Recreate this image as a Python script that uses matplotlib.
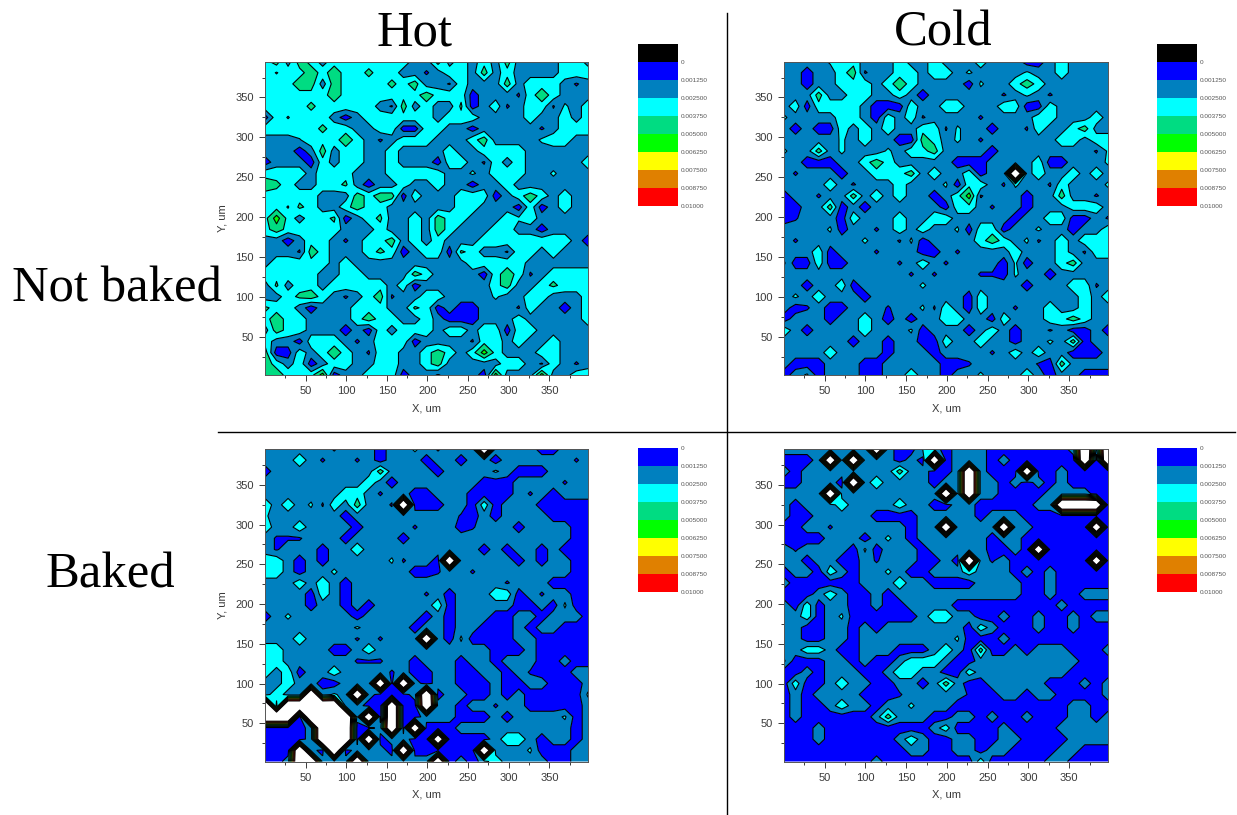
import numpy as np
import matplotlib
matplotlib.use("Agg")
import matplotlib.pyplot as plt
from matplotlib.colors import ListedColormap, BoundaryNorm

W_PX, H_PX = 1237, 815

# Cell codes -> measured value (rows listed from the top of each map down to the bottom)
CODE_VALUES = {"b": 0.0006, "n": 0.0011, "m": 0.0019, "x": 0.0024, "d": 0.0027,
               "c": 0.0033, "s": 0.0040, "t": 0.0044, "g": 0.0056, "W": 0.016}
X_UM = [14.2 * i for i in range(29)]
Y_UM = [2 + 14.04 * j for j in range(29)]
LEVELS = [0, 0.00125, 0.0025, 0.00375, 0.005, 0.00625, 0.0075, 0.00875, 0.01]
LEVEL_LABELS = ["0", "0.001250", "0.002500", "0.003750", "0.005000", "0.006250", "0.007500", "0.008750", "0.01000"]
LEVEL_COLORS = ["#0000FF", "#0080BF", "#00FFFF", "#00DC82", "#00FF00", "#FFFF00", "#E08000", "#FF0000"]
BELOW_COLOR = "#000000"
TICKS = [50, 100, 150, 200, 250, 300, 350]
MINOR_TICKS = [25, 75, 125, 175, 225, 275, 325, 375]

hot_not_baked = [
 "ctmtcmcccccccmmtmcmcmtmmmmccm",
 "cxcctctccsccmmnmccmtmcmmmmccc",
 "ccc tt m t cccc s c t mmn c mmm t m ccc mnm",
 "cccccc t ccccccc t ccc b mmm n c t c mmm",
 "ccccsccccc mnt mc mm s b m c n m cc n d m c",
 "bcxcccmbm cccccc m ccc mmmm c mm c m c",
 "ccccc s cc mm cc bb cc mm b mmmmm n m ccc",
 "mmmx ccc t c mnm ccc mmm c t mmmm d cc mm",
 "mmmbmtm cc mm c mmmm c mm cccc mmmmmm",
 "bmmmbcm cc mm c mmmb cc mn c m c mmmmm c",
 "ccccm ccc mmm ccccc mm d m ccc mm d mmm",
 "tscmm ccs mbmm c mm c mm b mm c mmmmmmm",
 "ccccc mmm tctt bc mmm ccc bmctc mcmm",
 "ccxsc mm ctcc mmmmmm cc mmm bcb mcmm",
 "cgcmccsb mcs mm cmtcc mmm cdc mmmmm",
 "ct ccccc mmm c mm cmtc mmm cc mm b mmmm",
 "mmbm cc mnm cct mcmc mmm cccccccc mb",
 "mmmnt c mmm csc bm cc bsc mmn cc mc mmm",
 "mccccc mc mmmmmmmmmm ccccc mmmmmm",
 "ccccc mm cc mmmm tc mmmm bctc nm cccc",
 "msmccm ccccc mcb mmmmmm ct mm csccc",
 "mmcst cmnm ctn mm cc mmmm d mm cc mmm c",
 "sccmbmmm ccc mm s c b m bb mmm n c mm b m c",
 "ctcc mmmm ctcc mm cm bbb mmm c mmmmm c",
 "mtcc mmmbmb cm ccc m cc m cc b cc mmmmm",
 "cmmb ccc mnm ccc b mmmm n cc mc mm c mmm",
 "tbbcmctc mn cc mm ctc mc g c mmm cc mmm",
 "tcmcbm cc mm cc mm ct mmmmm cc mn c mnm",
 "ttcccg bmm ccc bmm nmmm b g mmm g mm cc",
]
cold_not_baked = [
 "mmmmdccmmmcmmcmmmcmmmbbmcmmmm",
 "mmbmmctnmmccmccmdmmmmdmmcmmmm",
 "mmbmmcccmctcmmmmbdmmctcmmmmmm",
 "mmmtmmccmmcmbmmmmmmnmdmnmmmmm",
 "mcbcccc m bbb c mm cc mmm cc bb c mmmmm",
 "dmmmmccmbc mcnmm mmnmm mmccm mmcm",
 "mbmbbcmcmc mmccndmmbm mncmmctmm",
 "mmmmmdmcmm bbtcmdmnmm mmmmccmcc",
 "dmmtmdmmmd mcctmmmmbm mmmmmmmnd",
 "mmbbbmmctc mmmmmbbbmm mmcbbmmmd",
 "mnmmmbmmcc ctmcmmcbmm Wmcmmcmcm",
 "mmmmcmnmmm cmmmdbccmn dmmncmmmd",
 "bmmnmmtmcm cmmbmcgnmm mbmmtmmnm",
 "bbmmtbmbmm mmmmbccmnm mbmmmcccm",
 "bnmmmbcmmm cmmccmmmmm bmmccbbmn",
 "mmmmdbmmnm cmcmmdbccb mmdmmbmmc",
 "mnmmmmmdmm ndbmmmmctc mdnmcmccc",
 "mmmcbmmmnm mmbbmnmmmm cmmmcmncc",
 "dbbcbbmmmm nmcmnmmmmb dbmmctmmm",
 "mmmmmmmmmmm n m n mmm nn b d mm b mmmmm",
 "mmbmmcbmmm mmdmmmmmmm mbmmmccnm",
 "mdmcmmmbmm mmmmmm bc mmmmmmmm c m c",
 "mbnmbbmmmn mmdncmbcmm nmmcmmcmm",
 "bmmmbmmcmb mbmmccmmbc mmmcctcmm",
 "cmbmmmmcmm mdbmmmbmcm bmmnmbbmb",
 "mmmmmmbmmb mmbbcmmcmm bmmdmtbmm",
 "mmmmcmmmmb mmmbmmmmnm cmcmmbbbm",
 "mbbbmmmbbm mmmmbbnmmm mmnbtmmmm",
 "bmdbmmmbbm mcmmbmmdmm mcmbmmbbb",
]
hot_baked = [
 "mmmmmmnmmm bmmdmnmmmW mmmmbbmmm",
 "mmmcmnmmnm bmmmbmmbmm bmmmmmmnm",
 "bmmmmmmmmm tmmmmbmmmm dmbbbmmmm",
 "mmmmmmmmmc mbmmmmmmmb bbmmmmnmm",
 "mmmmmmmccm nmmbbmmmbb bbmnmbmmm",
 "cmcmdncmtm mnWbbbmmbc bmmmbbbbb",
 "dmmmmmmbmm mmmmmmmnbm bmmmmbbbb",
 "cmmcmmmmbm mmmnmmmbnm mmbmmmmbb",
 "mnnnmmmbmm mmbmmmmmmm mmmmmmmbb",
 "mnmmmbmmcm mmmmmmmmmb mbmmbmbbb",
 "ccmbmbmmmm mdnmmbWmmm mmbmbmmbb",
 "ccmbmmdmmm mmmbbnmmnm mmmmmmmbb",
 "mmmcmcmbmm mmmmmmmmmm mnmmmbbbb",
 "mmmmbcmbmm mmmmnmbmmm ccbmnmmbb",
 "mmmmbmmbmb mmmmmcbmmm mmbbmbdbb",
 "bmdmmmmmbm mmmmbmbmmm bbmmbmmmb",
 "mmmmmmmmdm mmmbmmbmmb bbmbmmbbb",
 "mmmcmmmmnm nmmmWmbdbb bbmmbbbbb",
 "ccmmmmbbmc mmmmmmmmmm bbbmbbbbb",
 "ccmmmmmmnn nmmbmmmbmm bmmmbbmbb",
 "cmcbmmcmmm mnmbbmmbbm mbmnbbbmm",
 "mmcmmbbmmm WbWmbmmbbb mbbmmbbbm",
 "mcmmWmdmWm bbbmWbmmbb mbmbbbbbd",
 "WmWWWWWmmb bWbbWmmbmm nmmbbbbbm",
 "WWWbWWWWmW bWbbmmmbbb mbmmmmdbm",
 "bbbbmWWWbb mWbWbbbmmm mmmmmmmbm",
 "bbbbmWWWbW bmmbbWbbbb mccmbmmbm",
 "bbbWmbWbmm mbWbbbbbbW mmmdbbbmm",
 "bbmWWmmmWm mmmmmWbmbm cmmmmbbmm",
]
cold_baked = [
 "mmmmmmmmWm bbdmbmmmbb bbbbbmWmW",
 "bbbmWmWmmm bmbWbmmmbm bbbbbbWbW",
 "mbmmmmmmmm tmmbbmWmbb bWbbmbbbb",
 "bbmmmbWmcm mmmbmmWmmb mbmbmbbbb",
 "mmmmWmmmmm mmmmWmWmmb bbbmmmmbb",
 "mbmmmcmmmm cmmbbmmbbb bbmmWWWWb",
 "mbbmmmmmbb bbmmmmmbmm mbbbbbbbb",
 "bbmmnmmmmm mbmmWmmmmW mmbbbbbWb",
 "bbbbmmmbmd mbmmmmmmbm mbbbbbbbb",
 "mnmmmmbdbm mmbmmmmmbb mbWbbbbbb",
 "mmbmmbbmnm mmbbmbWmnm bbbbbbbWb",
 "bmmbcmbmmd mbbmmmcmmm bmbmbbbbb",
 "mbbbbbbmmm cmmbbbbmmm mbbmbbbbb",
 "bbbmcmbbmb mmmmmmmmmm mbbmbbmmm",
 "mbcbmmbbmb bmmmm bbbbbbbbb m bbbb",
 "mmcbmdbbbb bbmccmmbbm bbmbbmbmm",
 "mmbbmmbmbm mmmmmmbcmb bbmbbmbbb",
 "mmbbmmbmmm mmmmmdbbbm bbbbbbbbb",
 "mmccmbbmmm bbbmcmbtbb mbmmmbbbm",
 "dbbbmmbmbb mcccmbbmmm mmmmmmbbb",
 "bbmbmmmbbm ccmmbbcmmm mmmmmbbbb",
 "bcbbmcmmbb mmbmtmbbmm mmmbbbmbm",
 "bmbmmmmbbb nmmmmmnbbm mbmmbbbbm",
 "bmbbmcmmbm mdmmmbbbbb bbbbbmmbb",
 "bmbbbbbbmt mmmbbmmbmb bmbbbmmbm",
 "bbbmbbbbbb bbbmcbbbbm bbbbmmmmm",
 "bbbmbbbbbb mcmbbmmbbm mbbbbmmmm",
 "bbbbbbbbbb bmmbbmmbmm bbbbmmbbb",
 "bbbbbbbbmb bbbbbbbcbb bbbmmbbbb",
]


def decode(rows, name):
    cleaned = [r.replace(" ", "") for r in rows]
    bad = [(k, len(r)) for k, r in enumerate(cleaned) if len(r) != 29]
    if bad or len(cleaned) != 29:
        raise SystemExit(f"{name}: rows {len(cleaned)} bad {bad}")
    return np.array([[CODE_VALUES[c] for c in r] for r in cleaned])[::-1]


plt.rcParams["font.family"] = ["Liberation Sans", "DejaVu Sans"]
fig = plt.figure(figsize=(W_PX / 100, H_PX / 100), dpi=100)


def ax_px(x0, y0, x1, y1):
    return fig.add_axes([x0 / W_PX, 1 - y1 / H_PX, (x1 - x0) / W_PX, (y1 - y0) / H_PX])


cmap = ListedColormap(LEVEL_COLORS)
cmap.set_over("white")
cmap.set_under(BELOW_COLOR)
norm = BoundaryNorm(LEVELS, cmap.N)
TICK_COL = "#3a3a3a"


def panel(box, rows, name, ylabel):
    ax = ax_px(*box)
    z = decode(rows, name)
    ax.contourf(X_UM, Y_UM, z, levels=LEVELS, cmap=cmap, norm=norm, extend="max", antialiased=True)
    ax.contour(X_UM, Y_UM, z, levels=LEVELS, colors="black", linewidths=0.8)
    ax.set_xlim(X_UM[0], X_UM[-1])
    ax.set_ylim(Y_UM[0], Y_UM[-1])
    ax.set_xticks(TICKS)
    ax.set_yticks(TICKS)
    ax.set_xticks(MINOR_TICKS, minor=True)
    ax.set_yticks(MINOR_TICKS, minor=True)
    ax.tick_params(which="major", length=4, width=0.7, labelsize=8, colors=TICK_COL, pad=4)
    ax.tick_params(which="minor", length=2.3, width=0.7, colors=TICK_COL)
    for s in ax.spines.values():
        s.set_linewidth(0.7)
        s.set_color("#555555")
    ax.set_xlabel("X, um", fontsize=8, color=TICK_COL, labelpad=5)
    if ylabel:
        ax.set_ylabel("Y, um", fontsize=8, color=TICK_COL, labelpad=6)


def colorbar(x0, y0, colors, labels, below):
    step = 18
    n = len(colors) + (1 if below else 0)
    ax = ax_px(x0, y0, x0 + 40, y0 + n * step)
    all_cols = ([BELOW_COLOR] if below else []) + list(colors)
    for k, col in enumerate(all_cols):
        ax.barh(k + 0.5, 1, height=1, color=col, linewidth=0)
    ax.set_xlim(0, 1)
    ax.set_ylim(n, 0)
    ax.axis("off")
    offset = 1 if below else 0
    for k, lab in enumerate(labels):
        ax.text(1.07, k + offset, lab, fontsize=4.6, color="#555555", va="center", ha="left", clip_on=False)


panel((265, 61.5, 588, 375), hot_not_baked, "hot_not_baked", True)
panel((784, 61.5, 1108, 375), cold_not_baked, "cold_not_baked", False)
panel((265, 449, 588, 761.5), hot_baked, "hot_baked", True)
panel((784, 449, 1108, 761.5), cold_baked, "cold_baked", False)

colorbar(638, 44, LEVEL_COLORS, LEVEL_LABELS, True)
colorbar(1157, 44, LEVEL_COLORS, LEVEL_LABELS, True)
colorbar(638, 448, LEVEL_COLORS, LEVEL_LABELS, False)
colorbar(1157, 448, LEVEL_COLORS, LEVEL_LABELS, False)

serif = dict(family="Liberation Serif", fontsize=36.5, color="black", ha="center", va="center")
fig.text(414 / W_PX, 1 - 33 / H_PX, "Hot", **serif)
fig.text(943 / W_PX, 1 - 33 / H_PX, "Cold", **serif)
fig.text(117 / W_PX, 1 - 289 / H_PX, "Not baked", **serif)
fig.text(110 / W_PX, 1 - 575 / H_PX, "Baked", **serif)

fig.add_artist(plt.Line2D([727 / W_PX] * 2, [1 - 13 / H_PX, 0], color="black", lw=1))
fig.add_artist(plt.Line2D([218 / W_PX, 1235 / W_PX], [1 - 432 / H_PX] * 2, color="black", lw=1))

fig.savefig("out.png", dpi=100, facecolor="white")
